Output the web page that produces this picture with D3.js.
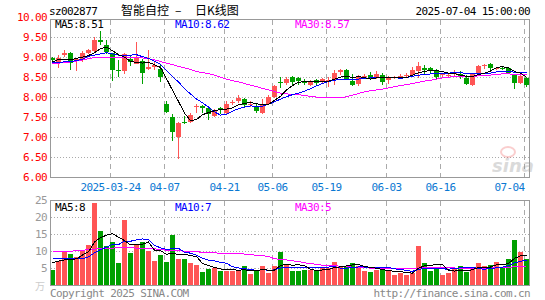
<!DOCTYPE html>
<html>
<head>
<meta charset="utf-8">
<script src="https://cdn.jsdelivr.net/npm/d3@7"></script>
<style>
body { margin: 0; background: #fff; }
svg { display: block; }
</style>
</head>
<body>
<div id="main"></div>
<script>
var ctx = {
    w: 545,
    h: 300,
};

// trading days shown on the chart
var dates = [
    "2025-03-10", "2025-03-11", "2025-03-12", "2025-03-13", "2025-03-14",
    "2025-03-17", "2025-03-18", "2025-03-19", "2025-03-20", "2025-03-21",
    "2025-03-24", "2025-03-25", "2025-03-26", "2025-03-27", "2025-03-28",
    "2025-03-31", "2025-04-01", "2025-04-02", "2025-04-03", "2025-04-07",
    "2025-04-08", "2025-04-09", "2025-04-10", "2025-04-11", "2025-04-14",
    "2025-04-15", "2025-04-16", "2025-04-17", "2025-04-18", "2025-04-21",
    "2025-04-22", "2025-04-23", "2025-04-24", "2025-04-25", "2025-04-28",
    "2025-04-29", "2025-04-30", "2025-05-06", "2025-05-07", "2025-05-08",
    "2025-05-09", "2025-05-12", "2025-05-13", "2025-05-14", "2025-05-15",
    "2025-05-16", "2025-05-19", "2025-05-20", "2025-05-21", "2025-05-22",
    "2025-05-23", "2025-05-26", "2025-05-27", "2025-05-28", "2025-05-29",
    "2025-05-30", "2025-06-03", "2025-06-04", "2025-06-05", "2025-06-06",
    "2025-06-09", "2025-06-10", "2025-06-11", "2025-06-12", "2025-06-13",
    "2025-06-16", "2025-06-17", "2025-06-18", "2025-06-19", "2025-06-20",
    "2025-06-23", "2025-06-24", "2025-06-25", "2025-06-26", "2025-06-27",
    "2025-06-30", "2025-07-01", "2025-07-02", "2025-07-03", "2025-07-04"
];

var opens = [
    8.98, 8.89, 9.07, 9.11, 8.92, 8.97, 9.12, 9.17, 9.44, 9.31,
    9.12, 8.70, 8.67, 8.97, 8.83, 8.91, 8.71, 8.77, 8.72, 7.85,
    7.52, 7.02, 7.40, 7.39, 7.76, 7.78, 7.75, 7.54, 7.73, 7.62,
    7.88, 7.91, 7.96, 7.82, 7.76, 7.62, 7.85, 8.02, 8.38, 8.37,
    8.52, 8.49, 8.41, 8.32, 8.43, 8.39, 8.42, 8.43, 8.64, 8.69,
    8.41, 8.33, 8.53, 8.56, 8.49, 8.57, 8.43, 8.49, 8.51, 8.55,
    8.57, 8.66, 8.74, 8.73, 8.67, 8.56, 8.55, 8.60, 8.60, 8.50,
    8.31, 8.60, 8.79, 8.83, 8.71, 8.75, 8.75, 8.60, 8.37, 8.50
];
var highs = [
    9.02, 9.06, 9.18, 9.13, 9.00, 9.16, 9.22, 9.52, 9.66, 9.43,
    9.12, 8.93, 9.11, 9.07, 9.39, 8.97, 9.18, 8.89, 8.82, 7.91,
    7.60, 7.39, 7.55, 7.62, 7.85, 7.82, 7.77, 7.71, 7.77, 7.91,
    7.93, 8.06, 7.98, 7.91, 7.85, 7.96, 8.06, 8.32, 8.52, 8.52,
    8.53, 8.52, 8.47, 8.43, 8.47, 8.48, 8.52, 8.68, 8.72, 8.72,
    8.60, 8.56, 8.60, 8.64, 8.66, 8.62, 8.54, 8.53, 8.58, 8.62,
    8.77, 8.89, 8.81, 8.76, 8.72, 8.62, 8.60, 8.68, 8.66, 8.56,
    8.60, 8.82, 8.85, 8.86, 8.76, 8.78, 8.77, 8.60, 8.60, 8.52
];
var lows = [
    8.89, 8.74, 9.02, 8.69, 8.67, 8.89, 9.10, 9.14, 9.31, 9.08,
    8.42, 8.52, 8.60, 8.79, 8.83, 8.33, 8.68, 8.68, 8.39, 7.62,
    6.91, 6.47, 7.33, 7.37, 7.62, 7.62, 7.43, 7.52, 7.60, 7.60,
    7.81, 7.87, 7.74, 7.76, 7.62, 7.60, 7.81, 8.00, 8.24, 8.32,
    8.31, 8.32, 8.31, 8.29, 8.32, 8.37, 8.27, 8.32, 8.56, 8.43,
    8.29, 8.29, 8.47, 8.43, 8.46, 8.32, 8.35, 8.47, 8.46, 8.50,
    8.55, 8.49, 8.60, 8.60, 8.47, 8.50, 8.52, 8.52, 8.47, 8.32,
    8.29, 8.60, 8.72, 8.66, 8.68, 8.70, 8.60, 8.22, 8.33, 8.27
];
var closes = [
    8.94, 9.00, 9.12, 8.87, 8.97, 9.11, 9.20, 9.43, 9.40, 9.14,
    8.70, 8.69, 9.10, 8.89, 9.02, 8.62, 8.77, 8.81, 8.52, 7.64,
    7.14, 7.37, 7.39, 7.57, 7.78, 7.75, 7.60, 7.66, 7.70, 7.85,
    7.90, 7.99, 7.81, 7.85, 7.66, 7.82, 8.02, 8.29, 8.36, 8.47,
    8.38, 8.41, 8.37, 8.41, 8.37, 8.46, 8.44, 8.62, 8.68, 8.46,
    8.31, 8.52, 8.55, 8.47, 8.60, 8.39, 8.50, 8.51, 8.53, 8.57,
    8.68, 8.79, 8.68, 8.68, 8.52, 8.59, 8.57, 8.63, 8.51, 8.35,
    8.60, 8.78, 8.82, 8.75, 8.73, 8.73, 8.62, 8.37, 8.54, 8.31
];

// volume, 10k lots
var volumes = [
    4.5, 7.2, 9.9, 9.2, 8.3, 10.3, 11.8, 24.2, 16.0, 11.6,
    12.7, 6.6, 19.2, 9.5, 12.3, 12.9, 10.1, 7.1, 8.9, 6.8,
    14.8, 7.9, 7.7, 6.6, 5.9, 4.1, 4.9, 5.1, 4.3, 4.4,
    4.4, 4.4, 5.6, 3.3, 4.3, 5.6, 3.8, 5.6, 10.0, 6.2,
    4.3, 4.3, 4.5, 4.5, 4.4, 5.2, 5.2, 6.9, 5.8, 5.6,
    6.7, 5.8, 4.3, 4.1, 4.6, 4.6, 4.4, 3.1, 3.8, 3.1,
    3.8, 11.7, 6.5, 4.3, 5.1, 3.1, 3.6, 5.1, 5.8, 4.0,
    4.8, 6.6, 5.8, 6.0, 7.0, 5.5, 7.9, 13.5, 9.8, 7.9
];

// moving-average lines as plotted
var ma5 = [
    8.89, 8.95, 8.95, 8.94, 8.98, 9.01, 9.05, 9.12, 9.22, 9.26,
    9.17, 9.07, 9.01, 8.90, 8.88, 8.86, 8.88, 8.82, 8.75, 8.47,
    8.18, 7.90, 7.61, 7.42, 7.45, 7.57, 7.62, 7.67, 7.70, 7.71,
    7.74, 7.82, 7.85, 7.88, 7.84, 7.83, 7.83, 7.93, 8.03, 8.19,
    8.30, 8.38, 8.40, 8.41, 8.39, 8.40, 8.41, 8.46, 8.51, 8.53,
    8.50, 8.52, 8.50, 8.46, 8.49, 8.51, 8.50, 8.49, 8.51, 8.50,
    8.56, 8.62, 8.65, 8.68, 8.67, 8.65, 8.61, 8.60, 8.56, 8.53,
    8.53, 8.57, 8.61, 8.66, 8.75, 8.77, 8.74, 8.65, 8.61, 8.51
];
var ma10 = [
    8.87, 8.88, 8.89, 8.90, 8.92, 8.96, 9.03, 9.06, 9.09, 9.12,
    9.09, 9.06, 9.06, 9.06, 9.07, 9.02, 8.98, 8.91, 8.83, 8.68,
    8.52, 8.39, 8.22, 8.09, 7.96, 7.87, 7.76, 7.64, 7.56, 7.58,
    7.66, 7.72, 7.76, 7.79, 7.78, 7.78, 7.83, 7.89, 7.96, 8.02,
    8.07, 8.11, 8.16, 8.22, 8.29, 8.35, 8.40, 8.43, 8.46, 8.46,
    8.45, 8.46, 8.48, 8.49, 8.51, 8.50, 8.51, 8.50, 8.48, 8.50,
    8.53, 8.56, 8.57, 8.59, 8.59, 8.61, 8.61, 8.62, 8.62, 8.60,
    8.59, 8.59, 8.61, 8.61, 8.64, 8.65, 8.66, 8.63, 8.63, 8.62
];
var ma30 = [
    8.85, 8.86, 8.87, 8.89, 8.91, 8.94, 8.97, 9.00, 9.00, 9.00,
    9.00, 9.00, 9.00, 9.00, 9.00, 8.99, 8.97, 8.94, 8.90, 8.86,
    8.82, 8.78, 8.74, 8.70, 8.65, 8.62, 8.60, 8.56, 8.51, 8.46,
    8.42, 8.39, 8.35, 8.31, 8.27, 8.23, 8.19, 8.15, 8.11, 8.09,
    8.08, 8.07, 8.05, 8.03, 8.01, 8.00, 7.99, 7.99, 7.99, 8.02,
    8.06, 8.10, 8.14, 8.17, 8.19, 8.21, 8.24, 8.27, 8.30, 8.32,
    8.35, 8.38, 8.41, 8.43, 8.46, 8.49, 8.51, 8.52, 8.52, 8.52,
    8.53, 8.54, 8.55, 8.56, 8.58, 8.59, 8.59, 8.58, 8.58, 8.57
];
var volMa5 = [
    6.7, 7.2, 7.5, 7.7, 7.82, 8.98, 9.90, 12.76, 14.12, 14.78,
    15.26, 14.22, 13.22, 11.92, 12.06, 12.10, 12.80, 10.38, 10.26, 9.16,
    9.54, 9.10, 9.22, 8.76, 8.58, 6.44, 5.84, 5.32, 4.86, 4.56,
    4.62, 4.52, 4.62, 4.42, 4.40, 4.64, 4.52, 4.52, 5.86, 6.24,
    5.98, 6.08, 5.86, 4.76, 4.40, 4.58, 4.76, 5.24, 5.50, 5.74,
    6.04, 6.16, 5.64, 5.30, 5.10, 4.68, 4.40, 4.16, 4.10, 3.80,
    3.64, 5.10, 5.78, 5.88, 6.28, 6.14, 4.52, 4.24, 4.54, 4.32,
    4.66, 5.26, 5.40, 5.44, 6.04, 6.18, 6.44, 7.98, 8.74, 8.92
];
var volMa10 = [
    8.1, 8.0, 7.9, 7.8, 7.8, 7.8, 8.4, 9.6, 10.5, 11.30,
    12.12, 12.06, 12.99, 13.02, 13.42, 13.68, 13.51, 11.80, 11.09, 10.61,
    10.82, 10.95, 9.80, 9.51, 8.87, 7.99, 7.47, 7.27, 6.81, 6.57,
    5.53, 5.18, 4.97, 4.64, 4.48, 4.63, 4.52, 4.57, 5.14, 5.32,
    5.31, 5.30, 5.19, 5.31, 5.32, 5.28, 5.42, 5.55, 5.13, 5.07,
    5.31, 5.46, 5.44, 5.40, 5.42, 5.36, 5.28, 4.90, 4.70, 4.45,
    4.16, 4.75, 4.97, 4.99, 5.04, 4.89, 4.81, 5.01, 5.21, 5.30,
    5.40, 4.89, 4.82, 4.99, 5.18, 5.42, 5.85, 6.69, 7.09, 7.48
];
var volMa30 = [
    9.9, 9.9, 10.0, 10.1, 10.2, 10.4, 10.5, 10.7, 10.8, 10.9,
    11.0, 11.1, 11.1, 11.1, 11.0, 11.0, 10.9, 10.8, 10.6, 10.4,
    10.3, 10.2, 10.1, 10.0, 9.9, 9.8, 9.7, 9.6, 9.5, 9.49,
    9.49, 9.40, 9.25, 9.06, 8.92, 8.77, 8.50, 7.88, 7.68, 7.50,
    7.22, 7.14, 6.65, 6.49, 6.22, 5.97, 5.80, 5.80, 5.69, 5.65,
    5.38, 5.31, 5.20, 5.12, 5.07, 5.09, 5.07, 5.01, 4.99, 4.95,
    4.93, 5.17, 5.20, 5.23, 5.26, 5.18, 5.17, 5.15, 5.01, 4.94,
    4.96, 5.03, 5.08, 5.13, 5.21, 5.22, 5.31, 5.53, 5.67, 5.74
];

var priceTicks = [10, 9.5, 9, 8.5, 8, 7.5, 7, 6.5, 6];
var volTicks = [25, 20, 15, 10, 5];
var dateTicks = ["2025-03-24", "2025-04-07", "2025-04-21", "2025-05-06",
    "2025-05-19", "2025-06-03", "2025-06-16", "2025-07-04"];
var dateTickLabels = ["2025-03-24", "04-07", "04-21", "05-06",
    "05-19", "06-03", "06-16", "07-04"];

var priceLegend = [
    { text: "MA5:8.51", color: "#000" },
    { text: "MA10:8.62", color: "#0000ff" },
    { text: "MA30:8.57", color: "#ff00ff" },
];
var volLegend = [
    { text: "MA5:8", color: "#000" },
    { text: "MA10:7", color: "#0000ff" },
    { text: "MA30:5", color: "#ff00ff" },
];

var RED = "#ff5555",
    GREEN = "#00a000",
    MONO = "'DejaVu Sans Mono', monospace",
    CJK = "'Noto Sans CJK SC', sans-serif";

var monoText = function (sel, size) {
    return sel
        .attr("font-family", MONO)
        .attr("font-size", size || 11)
        .attr("letter-spacing", "-0.6px")
        .attr("dominant-baseline", "central");
};

var createChart = function (svg) {
    var left = 50.5,
        right = 529.5;

    var x = d3.scaleBand().domain(dates).range([49.5, 529.5]);
    var cx = (d) => x(d) + x.bandwidth() / 2;
    var yP = d3.scaleLinear().domain([6, 10]).range([177.5, 17.5]);
    var yV = d3.scaleLinear().domain([0, 25]).range([285.5, 200.5]);

    var rows = dates.map((d, i) => ({
        date: d,
        o: opens[i],
        h: highs[i],
        l: lows[i],
        c: closes[i],
        v: volumes[i],
    }));
    var colorOf = (d) => (d.c >= d.o ? RED : GREEN);

    var panels = [
        { top: 19.5, bottom: yP(6) },
        { top: yV(25), bottom: yV(0) },
    ];

    // grid
    var grid = svg.append("g").attr("shape-rendering", "crispEdges");
    grid.selectAll(".hp")
        .data(priceTicks.filter((v) => v > 6 && v < 10))
        .enter()
        .append("line")
        .attr("x1", left)
        .attr("x2", right)
        .attr("y1", (d) => yP(d))
        .attr("y2", (d) => yP(d))
        .attr("stroke", "#aaa")
        .attr("stroke-dasharray", "1,2");
    grid.selectAll(".hv")
        .data(volTicks.filter((v) => v < 25))
        .enter()
        .append("line")
        .attr("x1", left)
        .attr("x2", right)
        .attr("y1", (d) => yV(d))
        .attr("y2", (d) => yV(d))
        .attr("stroke", "#aaa")
        .attr("stroke-dasharray", "1,2");
    panels.forEach(function (p) {
        grid.selectAll(null)
            .data(dateTicks)
            .enter()
            .append("line")
            .attr("x1", (d) => cx(d) - 2)
            .attr("x2", (d) => cx(d) - 2)
            .attr("y1", p.top)
            .attr("y2", p.bottom)
            .attr("stroke", "#aaa")
            .attr("stroke-dasharray", "5,4");
    });

    // sina watermark
    var wm = svg.append("g").attr("opacity", 0.3);
    wm.append("ellipse")
        .attr("cx", 508)
        .attr("cy", 152)
        .attr("rx", 7)
        .attr("ry", 5)
        .attr("fill", "none")
        .attr("stroke", "#f06060")
        .attr("stroke-width", 2);
    wm.append("text")
        .attr("x", 492)
        .attr("y", 172)
        .attr("font-family", "'DejaVu Sans', sans-serif")
        .attr("font-size", 18)
        .attr("font-weight", "bold")
        .attr("font-style", "italic")
        .attr("fill", "#888")
        .text("sina");

    // candles
    var candles = svg.append("g").attr("shape-rendering", "crispEdges");
    candles.selectAll(".wick")
        .data(rows)
        .enter()
        .append("line")
        .attr("x1", (d) => cx(d.date))
        .attr("x2", (d) => cx(d.date))
        .attr("y1", (d) => yP(d.h))
        .attr("y2", (d) => yP(d.l))
        .attr("stroke", colorOf);
    candles.selectAll(".body")
        .data(rows)
        .enter()
        .append("rect")
        .attr("x", (d) => cx(d.date) - 2.5)
        .attr("width", 5)
        .attr("y", (d) => yP(Math.max(d.o, d.c)))
        .attr("height", (d) => Math.max(1, Math.abs(yP(d.o) - yP(d.c))))
        .attr("fill", colorOf);

    // volume bars
    svg.append("g")
        .attr("shape-rendering", "crispEdges")
        .selectAll("rect")
        .data(rows)
        .enter()
        .append("rect")
        .attr("x", (d) => cx(d.date) - 2.5)
        .attr("width", 5)
        .attr("y", (d) => yV(d.v))
        .attr("height", (d) => yV(0) - yV(d.v))
        .attr("fill", colorOf);

    // moving averages
    var drawLine = function (values, y, color) {
        var line = d3.line()
            .x((d, i) => cx(dates[i]))
            .y((d) => y(d));
        svg.append("path")
            .datum(values)
            .attr("d", line)
            .attr("fill", "none")
            .attr("stroke", color)
            .attr("stroke-width", 1)
            .attr("shape-rendering", "crispEdges");
    };
    drawLine(ma30, yP, "#ff00ff");
    drawLine(ma10, yP, "#0000ff");
    drawLine(ma5, yP, "#000");
    drawLine(volMa30, yV, "#ff00ff");
    drawLine(volMa10, yV, "#0000ff");
    drawLine(volMa5, yV, "#000");

    // frames
    panels.forEach(function (p) {
        svg.append("rect")
            .attr("x", left)
            .attr("y", p.top)
            .attr("width", right - left)
            .attr("height", p.bottom - p.top)
            .attr("fill", "none")
            .attr("stroke", "#999")
            .attr("stroke-width", 1)
            .attr("shape-rendering", "crispEdges");
    });

    // axis labels
    svg.selectAll(".pl")
        .data(priceTicks)
        .enter()
        .append("text")
        .call(monoText)
        .attr("x", 47)
        .attr("y", (d) => yP(d))
        .attr("text-anchor", "end")
        .attr("fill", "#ff0000")
        .text((d) => d.toFixed(2));
    svg.selectAll(".vl")
        .data(volTicks)
        .enter()
        .append("text")
        .call(monoText)
        .attr("x", 47)
        .attr("y", (d) => yV(d))
        .attr("text-anchor", "end")
        .attr("fill", "#999")
        .text((d) => d);
    // unit mark under the volume scale
    svg.append("text")
        .attr("x", 45)
        .attr("y", 285)
        .attr("text-anchor", "end")
        .attr("dominant-baseline", "central")
        .attr("font-family", CJK)
        .attr("font-size", 10)
        .attr("fill", "#ccc")
        .text("万");
    svg.selectAll(".dl")
        .data(dateTicks)
        .enter()
        .append("text")
        .call(monoText)
        .attr("x", (d) => cx(d) - 2)
        .attr("y", 187)
        .attr("text-anchor", (d, i) =>
            i == dateTicks.length - 1 ? "end" : "middle"
        )
        .attr("fill", "#0a78d2")
        .text((d, i) => dateTickLabels[i]);

    // legends
    var legendX = [55, 175, 295];
    svg.selectAll(".lg")
        .data(priceLegend)
        .enter()
        .append("text")
        .call(monoText)
        .attr("x", (d, i) => legendX[i])
        .attr("y", 24.5)
        .attr("fill", (d) => d.color)
        .text((d) => d.text);
    svg.selectAll(".lv")
        .data(volLegend)
        .enter()
        .append("text")
        .call(monoText)
        .attr("x", (d, i) => legendX[i])
        .attr("y", 207)
        .attr("fill", (d) => d.color)
        .text((d) => d.text);

    // header
    svg.append("text")
        .call(monoText)
        .attr("x", 49)
        .attr("y", 11)
        .attr("fill", "#000")
        .text("sz002877");
    var title = [
        { x: 121, t: "智能自控" },
        { x: 175, t: "–" },
        { x: 195, t: "日K线图" },
    ];
    svg.selectAll(".tt")
        .data(title)
        .enter()
        .append("text")
        .attr("x", (d) => d.x)
        .attr("y", 9.5)
        .attr("dominant-baseline", "central")
        .attr("font-family", CJK)
        .attr("font-size", 12)
        .attr("fill", "#000")
        .text((d) => d.t);
    svg.append("text")
        .call(monoText)
        .attr("x", 530)
        .attr("y", 11)
        .attr("text-anchor", "end")
        .attr("fill", "#000")
        .text("2025-07-04 15:00:00");

    // footer
    svg.append("text")
        .call(monoText)
        .attr("x", 50)
        .attr("y", 293)
        .attr("fill", "#888")
        .text("Copyright 2025 SINA.COM");
    svg.append("text")
        .call(monoText)
        .attr("x", 530)
        .attr("y", 293)
        .attr("text-anchor", "end")
        .attr("fill", "#888")
        .text("http://finance.sina.com.cn");
};

var createViz = function () {
    var svgEl = d3.select("#main").append("svg");
    svgEl.attr("width", ctx.w);
    svgEl.attr("height", ctx.h);
    createChart(svgEl);
};

createViz();
</script>
</body>
</html>
